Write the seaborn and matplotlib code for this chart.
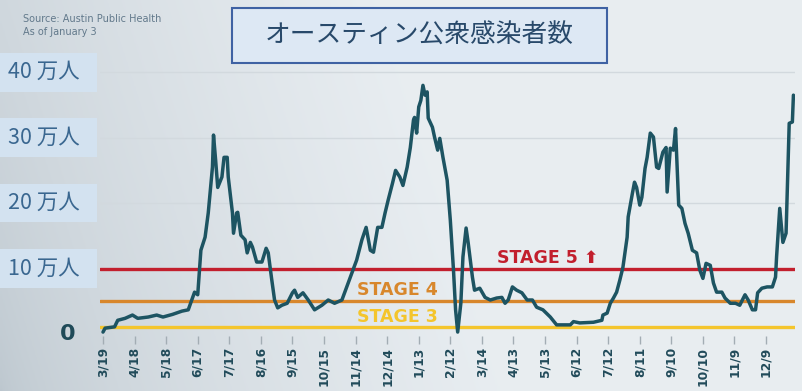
import numpy as np
import matplotlib
matplotlib.use("Agg")
import matplotlib.pyplot as plt
import seaborn as sns
from matplotlib.patches import Rectangle
from matplotlib.transforms import blended_transform_factory

# days since 3/19/2020, values in 万人
days = [0, 2, 11, 14, 21, 28, 33, 43, 51, 57, 66, 75, 81, 85, 87, 90, 93, 97, 100, 104,
        105, 107, 109, 113, 115, 118, 119, 123, 124, 127, 128, 131, 135, 137, 140, 142, 146, 151, 155, 157,
        160, 163, 166, 170, 175, 180, 182, 185, 190, 195, 201, 208, 214, 220, 227, 233, 241, 246, 250, 254,
        257, 261, 265, 268, 271, 275, 278, 282, 285, 289, 292, 295, 296, 298, 300, 302, 304, 306, 308, 309,
        313, 315, 318, 320, 323, 327, 330, 333, 335, 337, 340, 342, 345, 347, 351, 353, 358, 363, 368, 374,
        379, 382, 385, 389, 393, 398, 403, 408, 412, 418, 425, 431, 437, 444, 447, 453, 466, 474, 475, 479,
        482, 485, 488, 491, 494, 498, 499, 503, 505, 507, 510, 512, 515, 517, 520, 523, 526, 528, 532, 535,
        536, 539, 542, 544, 545, 547, 550, 553, 556, 560, 564, 567, 570, 573, 577, 580, 583, 588, 591, 596,
        601, 605, 610, 613, 617, 620, 622, 626, 631, 636, 639, 640, 643, 646, 649, 652, 655, 656]
cases = [0.3, 0.9, 1.1, 2.1, 2.4, 2.9, 2.4, 2.6, 2.9, 2.6, 3.0, 3.5, 3.7, 5.5, 6.4, 6.0, 12.8, 14.8, 18.5, 25.5,
         30.4, 26.6, 22.4, 24.0, 27.0, 27.0, 24.0, 18.5, 15.4, 18.5, 18.6, 15.1, 14.4, 12.4, 14.0, 13.3, 11.0, 11.0, 13.1, 12.4,
         8.7, 5.2, 4.0, 4.4, 4.7, 6.3, 6.7, 5.6, 6.3, 5.2, 3.7, 4.4, 5.2, 4.7, 5.2, 7.8, 11.3, 14.4, 16.3, 12.8,
         12.5, 16.3, 16.3, 18.5, 20.5, 23.0, 25.0, 24.0, 22.7, 25.5, 28.5, 32.7, 33.1, 30.7, 34.7, 35.7, 38.0, 36.5, 37.0, 33.0,
         31.6, 30.1, 28.1, 29.9, 27.0, 23.5, 17.4, 9.8, 3.7, 0.3, 4.7, 11.8, 16.2, 13.9, 8.7, 6.7, 7.0, 5.6, 5.2, 5.5,
         5.6, 4.7, 5.2, 7.2, 6.7, 6.3, 5.2, 5.2, 4.1, 3.7, 2.6, 1.4, 1.4, 1.4, 1.9, 1.7, 1.8, 2.1, 2.9, 3.2,
         4.7, 5.5, 6.4, 8.2, 10.2, 14.8, 17.9, 21.5, 23.2, 22.4, 19.7, 20.9, 25.3, 27.0, 30.7, 30.1, 25.5, 25.3, 27.8, 28.5,
         21.7, 28.4, 28.1, 31.4, 27.6, 19.7, 19.2, 16.9, 15.4, 12.8, 12.4, 9.8, 8.5, 10.8, 10.5, 7.8, 6.4, 6.4, 5.5, 4.7,
         4.7, 4.4, 6.0, 5.2, 3.7, 3.7, 6.3, 7.0, 7.2, 7.2, 8.7, 11.8, 19.2, 14.0, 15.4, 32.2, 32.4, 36.5]

tick_days = list(range(0, 631, 30))
tick_labels = ["3/19", "4/18", "5/18", "6/17", "7/17", "8/16", "9/15", "10/15", "11/14", "12/14", "1/13",
               "2/12", "3/14", "4/13", "5/13", "6/12", "7/12", "8/11", "9/10", "10/10", "11/9", "12/9"]
y_levels = [10, 20, 30, 40]
y_labels = ["10 万人", "20 万人", "30 万人", "40 万人"]
grid_levels = [20, 30, 40]
stage_names = ["STAGE 3", "STAGE 4", "STAGE 5 ⬆"]
stage_levels = [1.0, 5.0, 10.0]
stage_colors = ["#f4c52c", "#d8872c", "#c21f2d"]
stage_text_pos = [(241, 2.6), (241, 6.7), (374, 11.6)]

sns.set_theme(style="white")
plt.rcParams["font.family"] = ["Noto Sans CJK JP", "DejaVu Sans"]

W, H = 802, 391
fig = plt.figure(figsize=(W / 100, H / 100), dpi=100)

# background gradient
bg = fig.add_axes([0, 0, 1, 1], zorder=0)
gx, gy = np.meshgrid(np.linspace(0, 1, 300), np.linspace(0, 1, 150))
t = np.clip(0.25 + 1.6 * gx - 0.25 * gy, 0, 1) ** 0.6
dark = np.array([0.74, 0.78, 0.81])
light = np.array([0.91, 0.93, 0.945])
img = dark[None, None, :] * (1 - t[..., None]) + light[None, None, :] * t[..., None]
bg.imshow(img, aspect="auto", extent=[0, 1, 0, 1], origin="upper")
bg.axis("off")

ax = fig.add_axes([100 / W, (H - 336) / H, 695 / W, 286 / H], zorder=1)
ax.set_facecolor("none")
ax.set_xlim(-2.85, 657.5)
ax.set_ylim(-0.3, 43.4)

for g in grid_levels:
    ax.axhline(g, color="#d2d9de", lw=1, zorder=1)
for lv, c in zip(stage_levels, stage_colors):
    ax.axhline(lv, color=c, lw=2.4, zorder=2)

sns.lineplot(x=days, y=cases, ax=ax, color="#1d5462", lw=2.5, zorder=4)

for name, c, (tx, ty) in zip(stage_names, stage_colors, stage_text_pos):
    ax.text(tx, ty, name, color=c, fontsize=12.5, fontweight="bold", family="DejaVu Sans",
            ha="left", va="center", zorder=3)

sns.despine(ax=ax, left=True, bottom=True, right=True, top=True)
ax.set_yticks([])
ax.set_xticks(tick_days, tick_labels, rotation=90, fontweight="bold", color="#214b5a",
              fontsize=8.8, family="DejaVu Sans")
ax.tick_params(axis="x", bottom=True, length=6, width=1, color="#a3adb4", pad=2)

# y labels in boxes
trans = blended_transform_factory(fig.transFigure, ax.transData)
for lv, lab in zip(y_levels, y_labels):
    ax.add_patch(Rectangle((0, lv - 2.95), 97 / W, 5.9, transform=trans, facecolor="#d3e2f0",
                           edgecolor="none", clip_on=False, zorder=5))
    ax.text(8 / W, lv, lab, transform=trans, ha="left", va="center", color="#3a6790",
            fontsize=15.5, clip_on=False, zorder=6)
ax.text(68 / W, 0, "0", transform=trans, ha="center", va="center", color="#1f4a58",
        fontsize=16, fontweight="bold", family="DejaVu Sans", zorder=6)

# title box
fig.patches.append(Rectangle((232 / W, 1 - 63 / H), 375 / W, 55 / H, transform=fig.transFigure,
                             facecolor="#dde8f4", edgecolor="#3f62a3", lw=1.5, zorder=5))
fig.text(419 / W, 1 - 36 / H, "オースティン公衆感染者数", ha="center", va="center",
         fontsize=18.5, color="#28496a", zorder=6)

fig.text(23 / W, 1 - 19 / H, "Source: Austin Public Health", fontsize=7, color="#62798b",
         va="center", family="DejaVu Sans")
fig.text(23 / W, 1 - 32 / H, "As of January 3", fontsize=7, color="#62798b",
         va="center", family="DejaVu Sans")

fig.savefig("out.png", dpi=100)
